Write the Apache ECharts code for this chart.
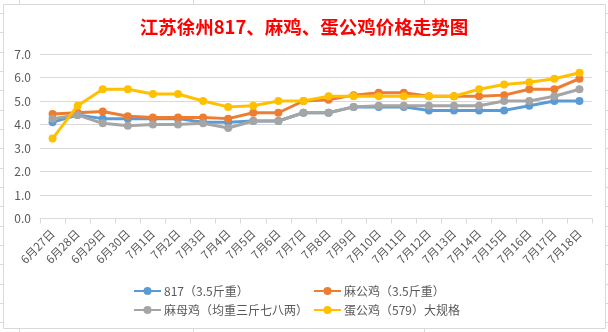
<!DOCTYPE html>
<html><head><meta charset="utf-8">
<script src="https://cdn.jsdelivr.net/npm/echarts@6/dist/echarts.min.js"></script>
<style>html,body{margin:0;padding:0;background:#fff}#c{width:608px;height:332px}</style>
</head><body><div id="c"></div>
<script>
const categories = ['6月27日','6月28日','6月29日','6月30日','7月1日','7月2日','7月3日','7月4日','7月5日','7月6日','7月7日','7月8日','7月9日','7月10日','7月11日','7月12日','7月13日','7月14日','7月15日','7月16日','7月17日','7月18日'];
const s817 = [4.1,4.4,4.25,4.25,4.25,4.25,4.1,4.1,4.15,4.15,4.5,4.5,4.75,4.75,4.75,4.6,4.6,4.6,4.6,4.8,5.0,5.0];
const sMaGong = [4.45,4.5,4.55,4.35,4.3,4.3,4.3,4.25,4.5,4.5,5.0,5.05,5.25,5.35,5.35,5.2,5.2,5.2,5.25,5.5,5.5,5.95];
const sMaMu = [4.25,4.4,4.05,3.95,4.0,4.0,4.05,3.85,4.15,4.15,4.5,4.5,4.75,4.8,4.8,4.8,4.8,4.8,5.0,5.0,5.2,5.5];
const sDanGong = [3.4,4.8,5.5,5.5,5.3,5.3,5.0,4.75,4.8,5.0,5.0,5.2,5.2,5.2,5.2,5.2,5.2,5.5,5.7,5.8,5.95,6.2];
const names = ['817（3.5斤重）','麻公鸡（3.5斤重）','麻母鸡（均重三斤七八两）','蛋公鸡（579）大规格'];
const colors = ['#5B9BD5','#ED7D31','#A5A5A5','#FFC000'];
const yTicks = [0,1,2,3,4,5,6,7];

const font = '"Microsoft YaHei","Noto Sans CJK SC","Noto Sans",sans-serif';
const chart = echarts.init(document.getElementById('c'));
const seriesData = [s817, sMaGong, sMaMu, sDanGong];
const gridLine = (x1,y1,x2,y2) => ({type:'line', shape:{x1,y1,x2,y2}, style:{stroke:'#D9D9D9', lineWidth:1}, silent:true});
const deco = [];
[13,32,52,71,90,110,129,148,168,187,206,226,245,264,284,303,322].forEach(y=>{deco.push(gridLine(0,y+0.5,3,y+0.5)); deco.push(gridLine(606,y+0.5,608,y+0.5));});
[19,193,424].forEach(x=>{deco.push(gridLine(x+0.5,0,x+0.5,4)); deco.push(gridLine(x+0.5,328,x+0.5,332));});
deco.push({type:'rect', shape:{x:3.5,y:4.5,width:602,height:324}, style:{fill:'none', stroke:'#D9D9D9', lineWidth:1}, silent:true});

chart.setOption({
  animation:false,
  backgroundColor:'#fff',
  title:{text:'江苏徐州817、麻鸡、蛋公鸡价格走势图', left:'center', top:13,
    textStyle:{color:'#FF0000', fontSize:18.5, fontWeight:'bold', fontFamily:font}},
  graphic: deco,
  legend:[
    {data:[names[0],names[2]], orient:'vertical', left:128, top:280, itemWidth:27, itemHeight:10, itemGap:7,
     textStyle:{color:'#595959', fontSize:12, fontFamily:font, padding:[0,0,0,-2]}},
    {data:[names[1],names[3]], orient:'vertical', left:308, top:280, itemWidth:27, itemHeight:10, itemGap:7,
     textStyle:{color:'#595959', fontSize:12, fontFamily:font, padding:[0,0,0,-2]}}
  ],
  grid:{left:40, right:16, top:54, bottom:113.5, containLabel:false},
  xAxis:{type:'category', data:categories, boundaryGap:true,
    axisLine:{lineStyle:{color:'#D9D9D9'}},
    axisTick:{show:true, length:5, lineStyle:{color:'#D9D9D9'}},
    axisLabel:{rotate:45, color:'#595959', fontSize:11.5, fontFamily:font, interval:0, margin:13}},
  yAxis:{type:'value', min:yTicks[0], max:yTicks[yTicks.length-1], interval:1,
    axisLine:{show:false}, axisTick:{show:false},
    splitLine:{lineStyle:{color:'#D9D9D9'}},
    axisLabel:{color:'#595959', fontSize:12, fontFamily:font, margin:9, formatter:v=>v.toFixed(1)}},
  series: seriesData.map((d,i)=>({
    name:names[i], type:'line', data:d, color:colors[i],
    symbol:'circle', symbolSize:8, showSymbol:true,
    lineStyle:{width:3, color:colors[i]}, itemStyle:{color:colors[i]}, z:2+i
  }))
});
</script></body></html>
